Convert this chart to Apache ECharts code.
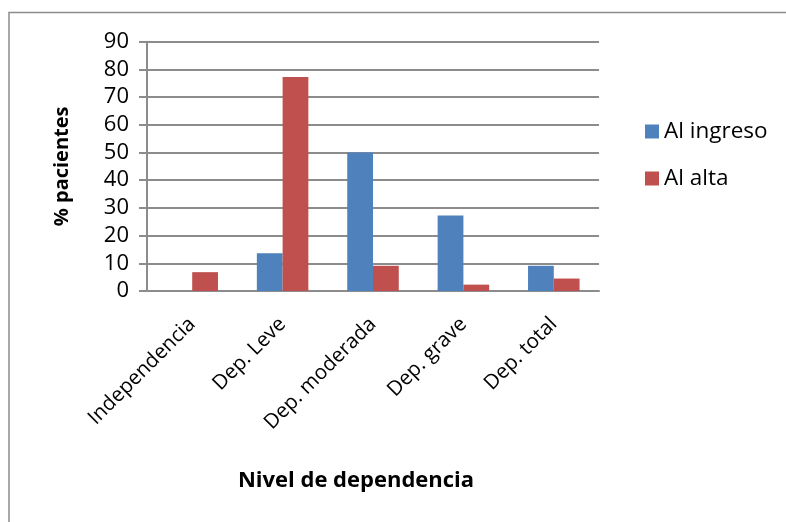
<!DOCTYPE html>
<html>
<head>
<meta charset="utf-8">
<script src="https://cdn.jsdelivr.net/npm/echarts@6/dist/echarts.min.js"></script>
<style>html,body{margin:0;padding:0;background:#fff}#c{width:786px;height:522px}</style>
</head>
<body>
<div id="c"></div>
<script>
var categories = ['Independencia', 'Dep. Leve', 'Dep. moderada', 'Dep. grave', 'Dep. total'];
var alIngreso = [0, 13.6, 50, 27.3, 9.1];
var alAlta = [6.8, 77.3, 9.1, 2.3, 4.5];
var seriesNames = ['Al ingreso', 'Al alta'];
var yTicks = {min: 0, max: 90, interval: 10};

var FONT = 'Open Sans';
var chart = echarts.init(document.getElementById('c'), null, {renderer: 'canvas'});
chart.setOption({
  animation: false,
  backgroundColor: '#fff',
  graphic: [
    {type: 'rect', shape: {x: 9, y: 12.5, width: 900, height: 700},
     style: {fill: 'none', stroke: '#8c8c8c', lineWidth: 1.5}, silent: true},
    {type: 'text', x: 356, y: 481, style: {text: 'Nivel de dependencia',
      font: 'bold 22px "' + FONT + '"', fill: '#000', align: 'center', verticalAlign: 'middle'}}
  ],
  legend: {
    orient: 'vertical', left: 640, top: 115,
    itemWidth: 14, itemHeight: 14, itemGap: 24,
    icon: 'rect',
    textStyle: {fontFamily: FONT, fontSize: 22.5, color: '#000', padding: [0, 0, 0, 0]},
    data: seriesNames
  },
  grid: {left: 147, right: 187, top: 41.7, bottom: 231, containLabel: false},
  xAxis: {
    type: 'category', data: categories,
    axisLine: {show: true, lineStyle: {color: '#8c8c8c', width: 2}},
    axisTick: {show: false},
    axisLabel: {rotate: 45, interval: 0, margin: 30, fontFamily: FONT, fontSize: 20.5, color: '#000'}
  },
  yAxis: {
    type: 'value', min: yTicks.min, max: yTicks.max, interval: yTicks.interval,
    name: '% pacientes', nameLocation: 'middle', nameRotate: 90, nameGap: 75,
    nameTextStyle: {fontFamily: FONT, fontSize: 20, fontWeight: 'bold', color: '#000'},
    axisLine: {show: true, lineStyle: {color: '#8c8c8c', width: 2}},
    axisTick: {show: true, length: 8, lineStyle: {color: '#8c8c8c', width: 2}},
    splitLine: {show: true, lineStyle: {color: '#8c8c8c', width: 2}},
    axisLabel: {margin: 18, fontFamily: FONT, fontSize: 22, color: '#000'}
  },
  series: [
    {name: seriesNames[0], type: 'bar', data: alIngreso, barGap: '0%', barCategoryGap: '43%',
     itemStyle: {color: '#4F81BD'}},
    {name: seriesNames[1], type: 'bar', data: alAlta, barGap: '0%', barCategoryGap: '43%',
     itemStyle: {color: '#C0504D'}}
  ]
});
</script>
</body>
</html>
